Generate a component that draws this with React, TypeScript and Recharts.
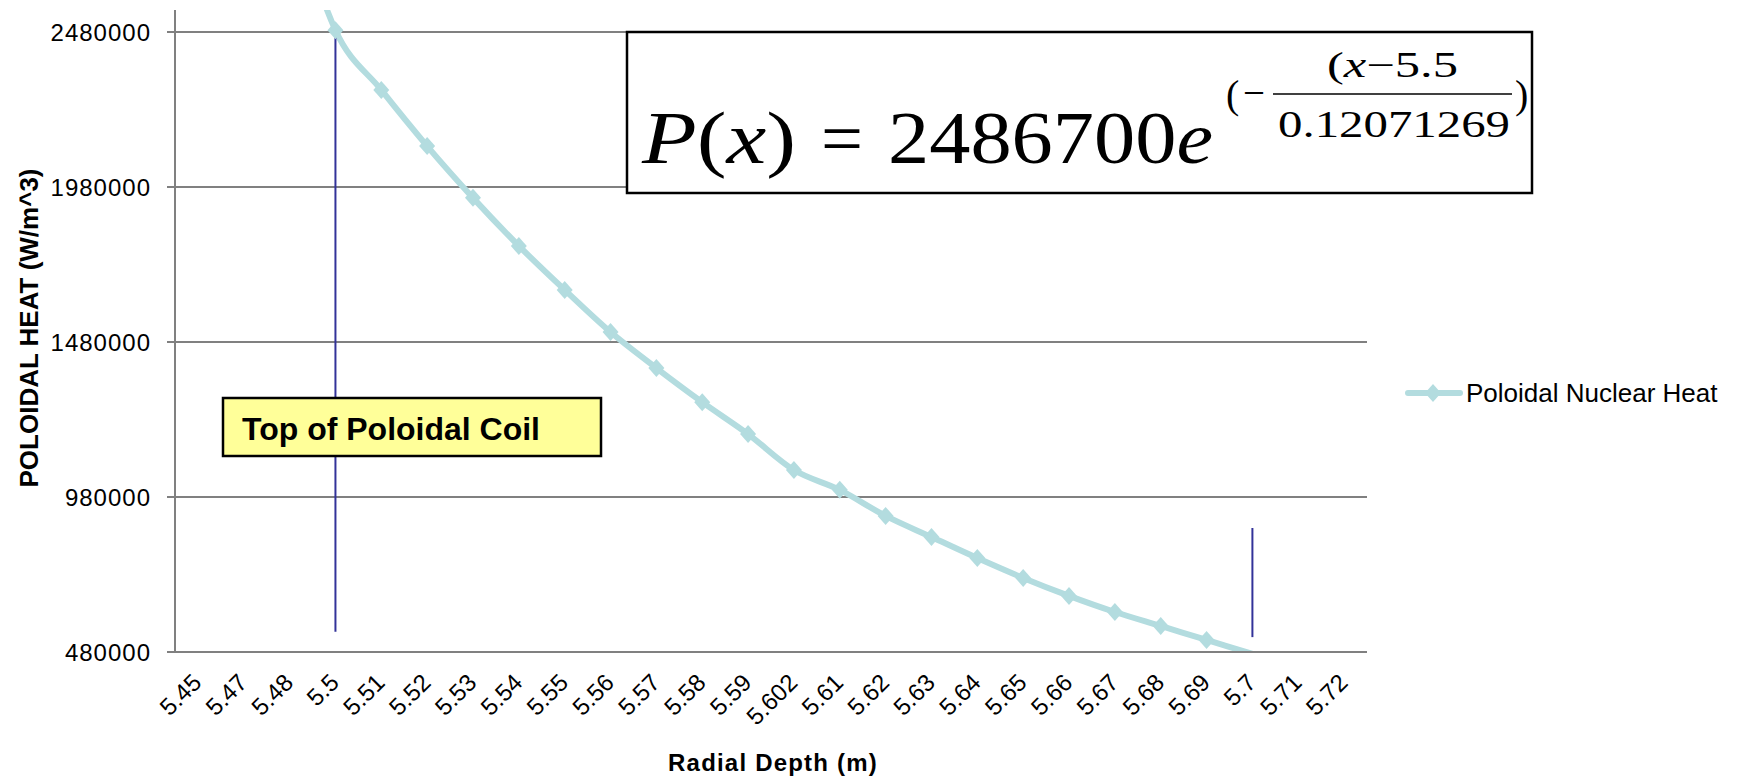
import React from "react";
import {
  LineChart,
  Line,
  XAxis,
  YAxis,
  CartesianGrid,
  ReferenceLine,
} from "recharts";

// radial depth categories (m)
const depths = [
  "5.45", "5.47", "5.48", "5.5", "5.51", "5.52", "5.53", "5.54", "5.55",
  "5.56", "5.57", "5.58", "5.59", "5.602", "5.61", "5.62", "5.63", "5.64",
  "5.65", "5.66", "5.67", "5.68", "5.69", "5.7", "5.71", "5.72",
];

// poloidal nuclear heat (W/m^3)
const heat: (number | null)[] = [
  null, null, 2935000, 2486000, 2293000, 2112000, 1945000, 1790000, 1648000,
  1512000, 1396000, 1286000, 1183000, 1067000, 1003000, 919000, 851000, 783000,
  719000, 661000, 609000, 564000, 519000, 474000, null, null,
];

const yTicks = [480000, 980000, 1480000, 1980000, 2480000];
const yMin = 480000;
const yMax = 2551000;

const seriesName = "Poloidal Nuclear Heat";
const teal = "#B3DCDF";
const coilBlue = "#333399";
const sans = "'Liberation Sans', Arial, sans-serif";
const serif = "'Liberation Serif', 'Times New Roman', serif";

const data = depths.map((d, i) => ({ depth: d, heat: heat[i] }));

function Diamond(props: any) {
  const { cx, cy, value } = props;
  if (value == null || value < yMin || value > yMax || cx == null) return null;
  return (
    <polygon
      points={`${cx},${cy - 9} ${cx + 8},${cy} ${cx},${cy + 9} ${cx - 8},${cy}`}
      fill={teal}
    />
  );
}

function XTick(props: any) {
  const { x, y, payload } = props;
  const tx = x + 5;
  const ty = y + 32;
  return (
    <text
      x={tx}
      y={ty}
      transform={`rotate(-45 ${tx} ${ty})`}
      textAnchor="end"
      fontSize={24}
      fontFamily={sans}
      fill="#000"
    >
      {payload.value}
    </text>
  );
}

function YTick(props: any) {
  const { x, y, payload } = props;
  return (
    <text
      x={x}
      y={y}
      dy="0.36em"
      textAnchor="end"
      fontSize={24}
      letterSpacing={1}
      fontFamily={sans}
      fill="#000"
    >
      {payload.value}
    </text>
  );
}

export default function App() {
  return (
    <div style={{ position: "absolute", left: 0, top: 0, width: 1739, height: 777, background: "#fff" }}>
      <LineChart
        width={1739}
        height={777}
        data={data}
        margin={{ top: 10, right: 372, left: 0, bottom: 0 }}
      >
        <CartesianGrid
          vertical={false}
          horizontalValues={yTicks}
          stroke="#808080"
          strokeWidth={2}
        />
        <XAxis
          dataKey="depth"
          interval={0}
          height={125}
          padding={{ left: 22.9, right: 22.9 }}
          tickLine={false}
          tickSize={0}
          tickMargin={0}
          axisLine={{ stroke: "#808080", strokeWidth: 2 }}
          tick={<XTick />}
          label={{
            content: () => (
              <text x={773} y={771} textAnchor="middle" fontSize={24} fontWeight="bold" letterSpacing={1.2} fontFamily={sans} fill="#000">
                Radial Depth (m)
              </text>
            ),
          }}
        />
        <YAxis
          type="number"
          width={175}
          domain={[yMin, yMax]}
          ticks={yTicks}
          allowDataOverflow
          interval={0}
          tickSize={8}
          tickMargin={16}
          tickLine={{ stroke: "#808080", strokeWidth: 2 }}
          axisLine={{ stroke: "#808080", strokeWidth: 2 }}
          tick={<YTick />}
          label={{
            content: () => (
              <text
                x={38}
                y={328}
                transform="rotate(-90 38 328)"
                textAnchor="middle"
                fontSize={26}
                fontWeight="bold"
                fontFamily={sans}
                fill="#000"
              >
                POLOIDAL HEAT (W/m^3)
              </text>
            ),
          }}
        />
        <Line
          type="monotone"
          dataKey="heat"
          name={seriesName}
          stroke={teal}
          strokeWidth={6}
          dot={<Diamond />}
          activeDot={false}
          connectNulls={false}
          isAnimationActive={false}
        />
        <ReferenceLine
          segment={[{ x: "5.5", y: 2499000 }, { x: "5.5", y: 545000 }]}
          stroke={coilBlue}
          strokeWidth={2}
        />
        <ReferenceLine
          segment={[{ x: "5.7", y: 880000 }, { x: "5.7", y: 528000 }]}
          stroke={coilBlue}
          strokeWidth={2}
        />
      </LineChart>

      <svg
        width={1739}
        height={777}
        style={{ position: "absolute", left: 0, top: 0, pointerEvents: "none" }}
      >
        {/* legend */}
        <line x1={1408} y1={393} x2={1460} y2={393} stroke={teal} strokeWidth={6} strokeLinecap="round" />
        <polygon points="1433,384 1441,393 1433,402 1425,393" fill={teal} />
        <text x={1466} y={393} dy="0.36em" fontSize={26} fontFamily={sans} fill="#000">
          {seriesName}
        </text>

        {/* equation box */}
        <rect x={627} y={32} width={905} height={161} fill="#fff" stroke="#000" strokeWidth={2.5} />
        <text x={642} y={163} fontSize={74} fontFamily={serif} textLength={154} lengthAdjust="spacingAndGlyphs">
          <tspan fontStyle="italic">P</tspan>(<tspan fontStyle="italic">x</tspan>)
        </text>
        <text x={821} y={163} fontSize={74} fontFamily={serif} textLength={42} lengthAdjust="spacingAndGlyphs">=</text>
        <text x={888} y={163} fontSize={74} fontFamily={serif} textLength={325} lengthAdjust="spacingAndGlyphs">
          2486700<tspan fontStyle="italic">e</tspan>
        </text>
        <text x={1226} y={108} fontSize={40} fontFamily={serif}>(</text>
        <text x={1243} y={106} fontSize={40} fontFamily={serif} textLength={22} lengthAdjust="spacingAndGlyphs">−</text>
        <line x1={1273} y1={94} x2={1512} y2={94} stroke="#000" strokeWidth={1.5} />
        <text x={1327} y={77} fontSize={36} fontFamily={serif} textLength={131} lengthAdjust="spacingAndGlyphs">
          (<tspan fontStyle="italic">x</tspan>−5.5
        </text>
        <text x={1278} y={137} fontSize={37} fontFamily={serif} textLength={232} lengthAdjust="spacingAndGlyphs">
          0.12071269
        </text>
        <text x={1515} y={108} fontSize={40} fontFamily={serif}>)</text>

        {/* annotation */}
        <rect x={223} y={398} width={378} height={58} fill="#FFFF99" stroke="#000" strokeWidth={2.5} />
        <text x={242} y={440} fontSize={31.5} fontWeight="bold" fontFamily={sans} fill="#000" textLength={298} lengthAdjust="spacingAndGlyphs">
          Top of Poloidal Coil
        </text>
      </svg>
    </div>
  );
}
